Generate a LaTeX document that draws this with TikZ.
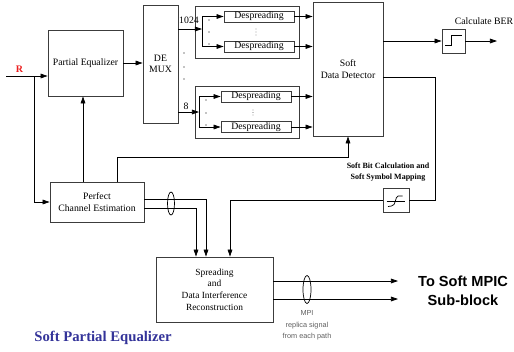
\documentclass[tikz,border=0pt]{standalone}
\usepackage{fontspec}
\setmainfont{Liberation Serif}
\setsansfont{Liberation Sans}
\usetikzlibrary{arrows.meta,positioning,calc}
\definecolor{titleblue}{RGB}{51,51,153}
\definecolor{rred}{RGB}{235,30,30}
\definecolor{boxline}{RGB}{60,60,60}
\definecolor{notegray}{RGB}{95,95,95}
\tikzset{
  block/.style={draw=boxline, line width=0.7pt, align=center, inner sep=1pt,
    font=\fontsize{8.3}{9.6}\selectfont},
  group/.style={draw=boxline, line width=0.7pt, minimum width=88.4pt, minimum height=44.2pt},
  dsbox/.style={draw=boxline, line width=0.7pt, inner sep=0pt, minimum width=59.5pt,
    minimum height=9.35pt, font=\fontsize{8.3}{9.6}\selectfont},
  numlabel/.style={inner sep=0pt, font=\fontsize{8.3}{9.6}\selectfont},
  flow/.style={-{Triangle[length=6pt,width=4pt]}, line width=0.6pt},
  wire/.style={line width=0.6pt}
}

\begin{document}
\begin{tikzpicture}[x=0.85pt, y=-0.85pt]
\useasboundingbox (0,0) rectangle (514,351);

% main blocks
\node[block, minimum width=63.75pt, minimum height=56.1pt] (pe) at (85.5,63) {Partial Equalizer};
\node[block, minimum width=29.75pt, minimum height=100.3pt] (demux) at (160.5,64) {DE\\MUX};
\node[group] (grpA) at (247,32) {};
\node[group] (grpB) at (247,112) {};
\node[dsbox] (dsA1) at (259,16.5) {Despreading};
\node[dsbox] (dsA2) at (259,46.5) {Despreading};
\node[dsbox] (dsB1) at (256,96.5) {Despreading};
\node[dsbox] (dsB2) at (256,127) {Despreading};
\node[block, minimum width=59.5pt, minimum height=113.9pt] (sdd) at (348,69) {Soft\\Data Detector};
\node[block, minimum width=19.55pt, minimum height=20.4pt] (ber) at (453.5,41) {};
\node[block, minimum width=22.1pt, minimum height=20.4pt] (sig) at (396,200.5) {};
\node[block, minimum width=79.9pt, minimum height=34pt] (pce) at (97,202) {Perfect\\Channel Estimation};
\node[block, minimum width=99.45pt, minimum height=55.25pt, font=\fontsize{8}{9.8}\selectfont] (spr) at (214.5,289.5)
  {Spreading\\and\\Data Interference\\Reconstruction};

% labels
\node[inner sep=0pt, text=rred, font=\bfseries\fontsize{8.5}{10}\selectfont] (rlab) at (19.5,69) {R};
\node[numlabel] (n1024) at (189,20) {1024};
\node[numlabel] (n8) at (186,106) {8};
\node[inner sep=0pt, font=\fontsize{8.3}{9.6}\selectfont] (berlab) at (484,21) {Calculate BER};
\node[inner sep=0pt, align=center, font=\bfseries\fontsize{6.8}{9.3}\selectfont] (sblab) at (388,172.5)
  {Soft Bit Calculation and\\Soft Symbol Mapping};
\node[inner sep=0pt, align=center, font=\sffamily\bfseries\fontsize{12.4}{16}\selectfont] (mpic) at (463,290.5)
  {To Soft MPIC\\Sub-block};
\node[inner sep=0pt, align=center, text=notegray, font=\sffamily\fontsize{6.2}{9.8}\selectfont] (mpi) at (307,325.5)
  {MPI\\replica signal\\from each path};
\node[inner sep=0pt, text=titleblue, font=\bfseries\fontsize{12.5}{15}\selectfont] (title) at (103,337.5)
  {Soft Partial Equalizer};

% helper points
\coordinate (rin) at (6,76);
\coordinate (rj) at (34,76);
\coordinate (colA) at (83,0);
\coordinate (colB) at (117,0);
\coordinate (busA) at (202,29);
\coordinate (busB) at (199,112);
\coordinate (rowS) at (0,77);
\coordinate (turnR) at (435,0);
\coordinate (colD) at (230,0);
\coordinate (row1) at (0,199);
\coordinate (row2) at (0,208);
\coordinate (colE) at (206,0);
\coordinate (colF) at (196,0);
\coordinate (berout) at (497,41);
\coordinate (mpiA) at (398,281);
\coordinate (mpiB) at (398,299);

% input and channel estimation
\draw[flow] (rin) -- (rin -| pe.west);
\draw[flow] (rj) |- (pce.west);
\draw[flow] (pce.north -| colA) -- (pe.south -| colA);
\draw[flow] (pce.north -| colB) -- ++(0,-24) -| (sdd.south);
\draw[flow] (pe.east) -- (pe.east -| demux.west);

% demux to despreading
\draw[flow] (demux.east |- busA) -- (busA);
\draw[wire] (busA |- dsA1) -- (busA |- dsA2);
\draw[flow] (busA |- dsA1) -- (dsA1.west);
\draw[flow] (busA |- dsA2) -- (dsA2.west);
\draw[flow] (demux.east |- busB) -- (busB);
\draw[wire] (busB |- dsB1) -- (busB |- dsB2);
\draw[flow] (busB |- dsB1) -- (dsB1.west);
\draw[flow] (busB |- dsB2) -- (dsB2.west);
\foreach \y in {20,32,44} \fill (209,\y) circle[radius=0.6pt];
\foreach \y in {100,113,125} \fill (206,\y) circle[radius=0.6pt];
\foreach \y in {53,67,79} \fill (184,\y) circle[radius=0.6pt];
\foreach \y in {29,32,35} \fill (256,\y) circle[radius=0.4pt];
\foreach \y in {110,112.5,115} \fill (253,\y) circle[radius=0.4pt];

% despreading to detector
\foreach \d in {dsA1,dsA2,dsB1,dsB2}
  \draw[flow] (\d.east) -- (\d.east -| sdd.west);

% detector outputs
\draw[flow] (sdd.east |- ber.west) -- (ber.west);
\draw[flow] (ber.east) -- (berout);
\draw[wire] ([shift={(-8.5,4)}]ber.center) -- ++(6,0) -- ++(0,-10) -- ++(11,0);
\draw[wire] (sdd.east |- rowS) -| (turnR |- sig.east) -- (sig.east);
\draw[flow] (sig.west) -| (spr.north -| colD);
\draw[wire] ([shift={(-9.5,0.5)}]sig.center) -- ([shift={(9,0.5)}]sig.center);
\draw[wire] ([shift={(-8,6)}]sig.center) -- ([shift={(-4.5,5.5)}]sig.center)
  .. controls ([shift={(0,5.5)}]sig.center) and ([shift={(-1,-4)}]sig.center) .. ([shift={(2,-4.5)}]sig.center)
  -- ([shift={(6.5,-4.5)}]sig.center);

% channel estimates to reconstruction
\draw[flow] (pce.east |- row1) -| (spr.north -| colE);
\draw[flow] (pce.east |- row2) -| (spr.north -| colF);
\draw[wire] (171,203.5) ellipse [x radius=3.5, y radius=11.5];

% reconstruction outputs
\draw[flow] (spr.east |- mpiA) -- (mpiA);
\draw[flow] (spr.east |- mpiB) -- (mpiB);
\draw[wire] (307,289.5) ellipse [x radius=4, y radius=14];
\end{tikzpicture}
\end{document}
